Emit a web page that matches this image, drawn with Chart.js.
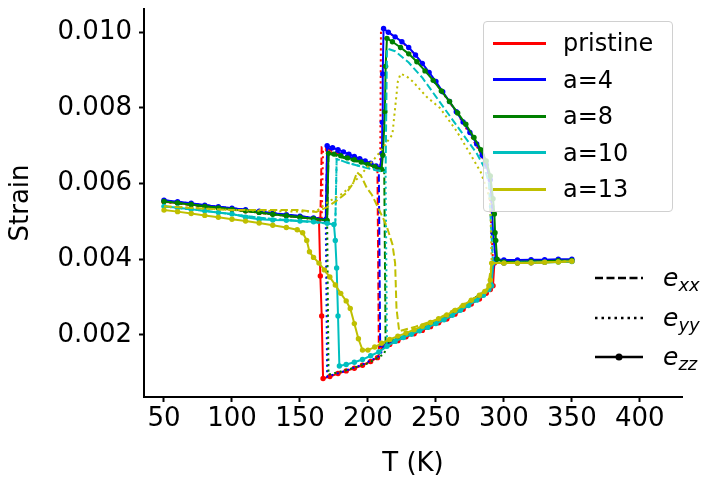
<!DOCTYPE html>
<html><head><meta charset="utf-8">
<script src="https://cdn.jsdelivr.net/npm/chart.js@4"></script>
<style>
body{margin:0;background:#fff;}
#wrap{position:relative;width:723px;height:489px;font-family:"DejaVu Sans",sans-serif;overflow:hidden;}
canvas{position:absolute;left:0;top:0;}
#leg1{position:absolute;left:483px;top:21px;width:190px;height:191px;box-sizing:border-box;border:1px solid #d0d0d0;border-radius:4px;background:rgba(255,255,255,0.8);}
.row{position:absolute;left:0;height:30px;width:100%;}
.sw{position:absolute;left:9px;top:13.5px;width:53px;height:3px;}
.lt{position:absolute;left:79px;top:0;line-height:30px;font-size:24px;color:#000;white-space:nowrap;}
#leg2{position:absolute;left:590px;top:255px;width:133px;height:125px;}
.r2{position:absolute;left:0;width:133px;height:30px;}
.r2 svg{position:absolute;left:0;top:0;}
.et{position:absolute;left:73px;top:0;line-height:30px;color:#000;white-space:nowrap;}
.et .e{font-size:25px;font-style:italic;}
.et .s{font-size:18px;font-style:italic;position:relative;top:5px;}
</style></head><body>
<div id="wrap"><canvas id="c" width="723" height="489"></canvas><div id="leg1"></div><div id="leg2"></div></div>
<script>
// ---------- data (T in K, strain) ----------
const seriesNames = ['pristine','a=4','a=8','a=10','a=13'];
const seriesColors = ['#ff0000','#0000ff','#008000','#00bfbf','#bfbf00'];
const componentNames = ['xx','yy','zz'];
const xTicks = [50,100,150,200,250,300,350,400];
const yTicks = [0.002,0.004,0.006,0.008,0.010];

const pristine_exx = [[50,0.00552],[75,0.00542],[100,0.00532],[125,0.00521],[150,0.00511],[165,0.00505],[166,0.00696],[175,0.00685],[190,0.00665],[200,0.00652],[207,0.00638],[208,0.00165],[220,0.00185],[240,0.00215],[260,0.0025],[280,0.00293],[289,0.00322],[292,0.0039],[310,0.00391],[330,0.00393],[350,0.00395]];
const pristine_eyy = [[50,0.00552],[75,0.00542],[100,0.00532],[125,0.00521],[150,0.00511],[166,0.00505],[167,0.0069],[180,0.00675],[195,0.00658],[209,0.0064],[209.6,0.0101],[215,0.0100],[225,0.00975],[235,0.0094],[245,0.0089],[255,0.0084],[265,0.0079],[275,0.0073],[283,0.0068],[289,0.0062],[292,0.0039],[310,0.00391],[330,0.00393],[350,0.00395]];
const pristine_ezz = [[50,0.00553],[60,0.00549],[70,0.00545],[80,0.0054],[90,0.00536],[100,0.00532],[110,0.00528],[120,0.00524],[130,0.0052],[140,0.00516],[150,0.00512],[160,0.00507],[164,0.00505],[165,0.00356],[166,0.0025],[167,0.00085],[172,0.0009],[178,0.00098],[184,0.00105],[190,0.00112],[196,0.0012],[202,0.0013],[207,0.0014],[211,0.0017],[216,0.00175],[222,0.00185],[228,0.00195],[234,0.00203],[240,0.00212],[246,0.00222],[252,0.00232],[258,0.00242],[264,0.00255],[270,0.00268],[276,0.00282],[282,0.00295],[287,0.0031],[290,0.0032],[292,0.0033],[293,0.0039],[300,0.0039],[310,0.0039],[320,0.00391],[330,0.00392],[340,0.00394],[350,0.00395]];

const a4_exx = [[50,0.00556],[75,0.00545],[100,0.00535],[125,0.00524],[150,0.00514],[169,0.00505],[170,0.00695],[180,0.0068],[195,0.0066],[208,0.00642],[209,0.0017],[220,0.00187],[240,0.00217],[260,0.00252],[280,0.00295],[289,0.00325],[293,0.0039],[310,0.00393],[330,0.00396],[350,0.00398]];
const a4_eyy = [[50,0.00556],[75,0.00545],[100,0.00535],[125,0.00524],[150,0.00514],[169,0.00505],[170,0.0009],[180,0.00101],[195,0.0012],[209,0.00145],[212,0.00175],[230,0.002],[250,0.00235],[270,0.00275],[289,0.00325],[293,0.0039],[310,0.00393],[330,0.00396],[350,0.00398]];
const a4_ezz = [[50,0.00556],[60,0.00552],[70,0.00548],[80,0.00543],[90,0.00539],[100,0.00535],[110,0.00531],[120,0.00527],[130,0.00522],[140,0.00518],[150,0.00514],[160,0.00509],[169,0.00505],[170,0.007],[174,0.00695],[178,0.0069],[182,0.00684],[186,0.00678],[190,0.00672],[194,0.00666],[198,0.0066],[202,0.00654],[206,0.00647],[209,0.00641],[210.3,0.0068],[210.6,0.00762],[210.9,0.0089],[211.5,0.0101],[215,0.0100],[220,0.00988],[225,0.00975],[230,0.0096],[235,0.0094],[240,0.00918],[245,0.00894],[250,0.0087],[255,0.00843],[260,0.00817],[265,0.0079],[270,0.00763],[275,0.00735],[280,0.00705],[284,0.00675],[287,0.0065],[290,0.0061],[291,0.0054],[292,0.0047],[294,0.004],[300,0.00398],[310,0.00398],[320,0.00399],[330,0.00399],[340,0.004],[350,0.004]];

const a8_exx = [[50,0.00553],[75,0.00542],[100,0.00532],[125,0.00521],[150,0.00511],[170,0.00503],[171,0.0068],[185,0.00665],[200,0.0065],[212,0.00636],[213,0.0018],[230,0.002],[250,0.00235],[270,0.00275],[289,0.00325],[292,0.0039],[320,0.00392],[350,0.00395]];
const a8_eyy = [[50,0.00553],[75,0.00542],[100,0.00532],[125,0.00521],[150,0.00511],[170,0.00503],[171,0.00095],[185,0.00108],[200,0.00125],[212,0.0015],[214,0.0018],[230,0.002],[250,0.00235],[270,0.00275],[289,0.00325],[292,0.0039],[320,0.00392],[350,0.00395]];
const a8_ezz = [[50,0.00553],[60,0.00549],[70,0.00545],[80,0.0054],[90,0.00536],[100,0.00532],[110,0.00528],[120,0.00524],[130,0.00519],[140,0.00515],[150,0.00511],[160,0.00507],[170,0.00503],[171,0.0068],[175,0.00678],[180,0.00674],[185,0.00668],[190,0.00663],[195,0.00657],[200,0.00651],[205,0.00645],[210,0.00638],[211,0.00675],[212.5,0.0079],[213,0.0091],[214,0.00984],[218,0.00975],[224,0.0096],[230,0.00943],[236,0.00922],[242,0.00898],[248,0.00873],[254,0.00845],[260,0.00817],[266,0.00787],[272,0.00757],[278,0.00722],[283,0.0069],[287,0.0066],[290,0.0062],[292,0.0056],[293,0.0052],[293.5,0.0047],[294,0.0045],[295,0.004],[300,0.00393],[320,0.00394],[340,0.00396],[350,0.00397]];

const a10_exx = [[50,0.0054],[75,0.0053],[100,0.00519],[125,0.00508],[150,0.00501],[176,0.00493],[177,0.00665],[185,0.00655],[195,0.00645],[205,0.00636],[213,0.0063],[214,0.00957],[220,0.0095],[230,0.0092],[240,0.0088],[250,0.0083],[260,0.0078],[270,0.0073],[280,0.0068],[286,0.0064],[289,0.006],[292,0.0039],[320,0.00391],[350,0.00394]];
const a10_eyy = [[50,0.0054],[75,0.0053],[100,0.00519],[125,0.00508],[150,0.00501],[176,0.00493],[177,0.00665],[190,0.0065],[205,0.00638],[213,0.0063],[214,0.0018],[230,0.002],[250,0.00235],[270,0.00275],[289,0.00325],[292,0.0039],[320,0.00391],[350,0.00394]];
const a10_ezz = [[50,0.0054],[60,0.00536],[70,0.00532],[80,0.00528],[90,0.00524],[100,0.0052],[110,0.00511],[120,0.00506],[130,0.00504],[140,0.00503],[150,0.00501],[160,0.00499],[170,0.00495],[175,0.00492],[176,0.0045],[177,0.00377],[178,0.0025],[179,0.00118],[184,0.00122],[190,0.00128],[196,0.00135],[202,0.00145],[208,0.00155],[214,0.0017],[220,0.00183],[226,0.00193],[232,0.00202],[238,0.00211],[244,0.0022],[250,0.0023],[256,0.0024],[262,0.00252],[268,0.00265],[274,0.00278],[280,0.00292],[285,0.00305],[289,0.0032],[291,0.0033],[292,0.0039],[300,0.0039],[310,0.0039],[320,0.00391],[330,0.00392],[340,0.00393],[350,0.00394]];

const a13_exx = [[50,0.0054],[75,0.00535],[100,0.0053],[125,0.0053],[150,0.0053],[162,0.00525],[170,0.00538],[177,0.00555],[184,0.00575],[189,0.006],[192,0.0063],[195,0.0062],[199,0.0059],[203,0.0057],[207,0.0054],[211,0.0051],[214,0.00485],[218,0.0044],[220,0.0039],[221,0.0027],[223,0.0021],[235,0.00222],[250,0.0024],[270,0.0028],[288,0.0032],[291,0.0039],[320,0.0039],[350,0.00395]];
const a13_eyy = [[50,0.0054],[75,0.00535],[100,0.0053],[125,0.00528],[150,0.00526],[162,0.00527],[170,0.0055],[182,0.00575],[194,0.0062],[207,0.00675],[214,0.0071],[218,0.0073],[220,0.008],[222,0.0087],[224,0.0089],[228,0.00885],[233,0.0087],[243,0.0083],[253,0.008],[265,0.0074],[275,0.0068],[283,0.0063],[288,0.0058],[290,0.0055],[291,0.0039],[320,0.0039],[350,0.00395]];
const a13_ezz = [[50,0.0053],[60,0.00526],[70,0.00521],[80,0.00516],[90,0.00511],[100,0.00506],[110,0.00501],[120,0.00496],[130,0.0049],[140,0.00484],[148,0.00478],[152,0.0047],[155,0.0045],[157,0.0042],[160,0.00405],[164,0.0039],[168,0.00372],[172,0.00353],[176,0.00332],[180,0.0031],[184,0.0029],[187,0.0027],[190,0.0023],[193,0.0019],[196,0.0016],[200,0.0016],[205,0.00168],[210,0.00178],[216,0.00188],[222,0.00197],[228,0.00205],[234,0.00214],[240,0.00223],[246,0.00233],[252,0.00243],[258,0.00253],[264,0.00265],[270,0.00278],[276,0.00292],[282,0.00305],[286,0.00315],[289,0.0033],[290,0.00345],[291,0.0039],[300,0.0039],[310,0.0039],[320,0.00391],[330,0.00392],[340,0.00393],[350,0.00395]];

const seriesData = [
  [pristine_exx, pristine_eyy, pristine_ezz],
  [a4_exx, a4_eyy, a4_ezz],
  [a8_exx, a8_eyy, a8_ezz],
  [a10_exx, a10_eyy, a10_ezz],
  [a13_exx, a13_eyy, a13_ezz]
];

// ---------- styles ----------
const FONT = 'DejaVu Sans';
const FS = 26;
const dashFor = [[7.4,3.2],[2.1,3.4],[]];

const datasets = [];
seriesData.forEach((comps, si) => {
  comps.forEach((pts, ci) => {
    datasets.push({
      label: seriesNames[si] + ' e' + componentNames[ci],
      data: pts.map(p => ({x: p[0], y: p[1]})),
      borderColor: seriesColors[si],
      backgroundColor: seriesColors[si],
      borderWidth: 2,
      borderDash: dashFor[ci],
      pointRadius: ci === 2 ? 2.7 : 0,
      pointHoverRadius: 0,
      pointBorderWidth: 0,
      pointBackgroundColor: seriesColors[si],
      tension: 0,
      fill: false,
      order: 100 - (si * 3 + ci)
    });
  });
});

new Chart(document.getElementById('c'), {
  type: 'line',
  data: { datasets },
  options: {
    responsive: false,
    devicePixelRatio: 1,
    animation: false,
    events: [],
    layout: { padding: { top: 9, right: 41, left: 0, bottom: 0 } },
    plugins: { legend: { display: false }, tooltip: { enabled: false } },
    scales: {
      x: {
        type: 'linear', min: 35.3, max: 431,
        afterBuildTicks: s => { s.ticks = xTicks.map(v => ({ value: v })); },
        afterFit: s => { s.height = 92; s.paddingLeft = 0; s.paddingRight = 0; },
        ticks: { font: { family: FONT, size: FS }, color: '#000', padding: 2, maxRotation: 0, autoSkip: false, callback: v => String(v) },
        grid: { display: true, drawOnChartArea: false, drawTicks: true, tickLength: 5, tickWidth: 2, tickColor: '#000' },
        border: { display: true, color: '#000', width: 2 },
        title: { display: true, text: 'T (K)', font: { family: FONT, size: FS }, color: '#000', padding: { top: 0, bottom: 9 } }
      },
      y: {
        type: 'linear', min: 0.00036, max: 0.010616,
        afterBuildTicks: s => { s.ticks = yTicks.map(v => ({ value: v })); },
        afterFit: s => { s.width = 144; s.paddingTop = 0; s.paddingBottom = 0; },
        ticks: { font: { family: FONT, size: FS }, color: '#000', padding: 7, autoSkip: false, callback: v => Number(v).toFixed(3) },
        grid: { display: true, drawOnChartArea: false, drawTicks: true, tickLength: 5, tickWidth: 2, tickColor: '#000' },
        border: { display: true, color: '#000', width: 2 },
        title: { display: true, text: 'Strain', font: { family: FONT, size: FS }, color: '#000', padding: { top: 6, bottom: 0 } }
      }
    }
  }
});

// ---------- legends ----------
const leg1 = document.getElementById('leg1');
seriesNames.forEach((name, i) => {
  const row = document.createElement('div');
  row.className = 'row';
  row.style.top = (6 + i * 36.6) + 'px';
  const sw = document.createElement('div');
  sw.className = 'sw';
  sw.style.background = seriesColors[i];
  const lt = document.createElement('div');
  lt.className = 'lt';
  lt.textContent = name;
  row.appendChild(sw); row.appendChild(lt);
  leg1.appendChild(row);
});

const leg2 = document.getElementById('leg2');
const svgNS = 'http://www.w3.org/2000/svg';
componentNames.forEach((c, i) => {
  const row = document.createElement('div');
  row.className = 'r2';
  row.style.top = (8 + i * 39.5) + 'px';
  const svg = document.createElementNS(svgNS, 'svg');
  svg.setAttribute('width', '60'); svg.setAttribute('height', '30');
  const ln = document.createElementNS(svgNS, 'line');
  ln.setAttribute('x1', '5'); ln.setAttribute('x2', '53');
  ln.setAttribute('y1', '15'); ln.setAttribute('y2', '15');
  ln.setAttribute('stroke', '#000'); ln.setAttribute('stroke-width', '2.5');
  if (dashFor[i].length) ln.setAttribute('stroke-dasharray', i === 0 ? '8,3.5' : '2.5,4');
  svg.appendChild(ln);
  if (i === 2) {
    const ci = document.createElementNS(svgNS, 'circle');
    ci.setAttribute('cx', '29'); ci.setAttribute('cy', '15'); ci.setAttribute('r', '3.5');
    ci.setAttribute('fill', '#000');
    svg.appendChild(ci);
  }
  row.appendChild(svg);
  const t = document.createElement('div');
  t.className = 'et';
  const e = document.createElement('span'); e.className = 'e'; e.textContent = 'e';
  const s = document.createElement('span'); s.className = 's'; s.textContent = c;
  t.appendChild(e); t.appendChild(s);
  row.appendChild(t);
  leg2.appendChild(row);
});
</script>
</body></html>
